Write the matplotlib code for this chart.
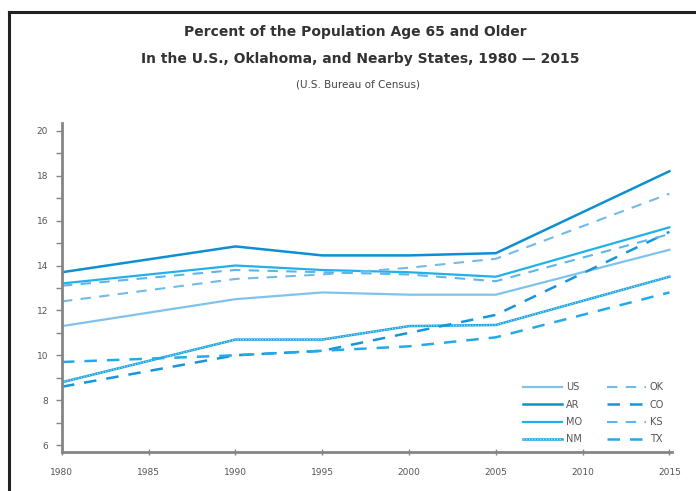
"""
Percent of the population age 65 and older, US / Oklahoma / nearby states
"""

import matplotlib.pyplot as plt
from matplotlib.lines import Line2D
from matplotlib.ticker import MultipleLocator

years = [1980, 1990, 1995, 2000, 2005, 2015]

us = [11.3, 12.5, 12.8, 12.7, 12.7, 14.7]
ar = [13.7, 14.85, 14.45, 14.45, 14.55, 18.2]
mo = [13.2, 14.0, 13.8, 13.7, 13.5, 15.7]
nm = [8.8, 10.7, 10.7, 11.3, 11.35, 13.5]
ok = [12.4, 13.4, 13.6, 13.9, 14.3, 17.2]
co = [8.6, 10.0, 10.2, 11.0, 11.8, 15.5]
ks = [13.1, 13.8, 13.7, 13.6, 13.3, 15.4]
tx = [9.7, 10.0, 10.2, 10.4, 10.8, 12.8]

xticks = [1980, 1985, 1990, 1995, 2000, 2005, 2010, 2015]
yticks = [6, 8, 10, 12, 14, 16, 18, 20]

fig = plt.figure(figsize=(6.96, 4.91), dpi=100)
ax = fig.add_axes([0.089, 0.0794, 0.8765, 0.6701])

dash = (0, (5, 4))
l_us, = ax.plot(years, us, color="#7fc3ec", lw=1.6, label="US")
l_ar, = ax.plot(years, ar, color="#0d8fd2", lw=1.8, label="AR")
l_mo, = ax.plot(years, mo, color="#22b0ea", lw=1.6, label="MO")
l_nm, = ax.plot(years, nm, color="#1aa3e0", lw=1.8)
ax.plot(years, nm, color="#bfe6f7", lw=0.8, ls=(0, (1, 1.5)))
l_ok, = ax.plot(years, ok, color="#72bbe8", lw=1.5, ls=dash, label="OK")
l_co, = ax.plot(years, co, color="#1895d8", lw=1.8, ls=dash, label="CO")
l_ks, = ax.plot(years, ks, color="#5cb6ea", lw=1.5, ls=dash, label="KS")
l_tx, = ax.plot(years, tx, color="#24aae8", lw=1.8, ls=dash, label="TX")

nm_dots = Line2D([], [], color="#bfe6f7", lw=0.8, ls=(0, (1, 1.5)))

ax.set_xlim(1980, 2015.15)
ax.set_ylim(5.69, 20.35)
ax.set_xticks(xticks)
ax.set_xticklabels([str(x) for x in xticks])
ax.set_yticks(yticks)
ax.yaxis.set_minor_locator(MultipleLocator(1))

for s in ["top", "right"]:
    ax.spines[s].set_visible(False)
for s in ["left", "bottom"]:
    ax.spines[s].set_color("#858585")
    ax.spines[s].set_linewidth(2)

ax.tick_params(axis="y", which="both", direction="out", length=4, width=1,
               color="#858585", labelsize=6.5, labelcolor="#555555", pad=6)
ax.tick_params(axis="x", direction="inout", length=5, width=1,
               color="#858585", labelsize=6.5, labelcolor="#555555", pad=9)

leg = ax.legend([l_us, l_ar, l_mo, (l_nm, nm_dots), l_ok, l_co, l_ks, l_tx],
                ["US", "AR", "MO", "NM", "OK", "CO", "KS", "TX"],
                ncol=2, loc="lower right", frameon=False, fontsize=7,
                handlelength=4.0, handletextpad=0.4, columnspacing=2.6,
                labelspacing=0.75, borderaxespad=0.4)
for t in leg.get_texts():
    t.set_color("#555555")

fig.text(0.51, 0.935, "Percent of the Population Age 65 and Older",
         ha="center", va="center", fontsize=10, fontweight="bold", color="#333333")
fig.text(0.517, 0.88, "In the U.S., Oklahoma, and Nearby States, 1980 \u2014 2015",
         ha="center", va="center", fontsize=10, fontweight="bold", color="#333333")
fig.text(0.515, 0.828, "(U.S. Bureau of Census)",
         ha="center", va="center", fontsize=7.5, color="#444444")

# frame of the original box, left and top edges only
fig.add_artist(Line2D([0.0135, 0.0135], [0.0, 0.976], color="#222222", lw=2.2))
fig.add_artist(Line2D([0.0125, 1.0], [0.976, 0.976], color="#222222", lw=2.2))

fig.savefig("out.png", dpi=100)
